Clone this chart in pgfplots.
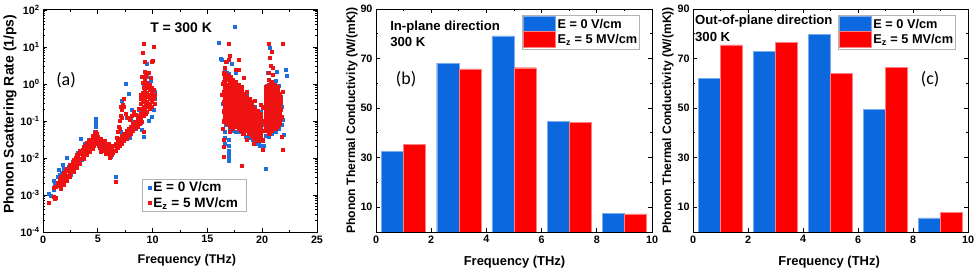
\documentclass[border=0pt]{standalone}
\usepackage{pgfplots}
\pgfplotsset{compat=1.18}
\usepackage{fontspec}
\setmainfont{Liberation Sans}
\newfontfamily\calib{Carlito}
\definecolor{myblue}{RGB}{12,104,222}
\definecolor{myred}{RGB}{255,0,0}
\definecolor{dotblue}{RGB}{30,110,220}
\definecolor{dotred}{RGB}{238,18,18}
\begin{document}
\begin{tikzpicture}
\useasboundingbox (0,0) rectangle (974bp,272bp);
\pgfplotsset{
  common/.style={
    scale only axis,
    axis line style={line width=1bp},
    every tick/.style={black, line width=0.8bp},
    major tick length=4bp, minor tick length=2.2bp,
    tick align=inside,
    tick label style={font=\fontsize{10.8}{12}\selectfont\bfseries},
    label style={font=\fontsize{13}{15}\selectfont\bfseries},
    /pgf/number format/assume math mode=true,
  },
  barleg/.style={
    legend style={draw=gray!60, line width=0.8bp, font=\fontsize{12.8}{14}\selectfont\bfseries,
      row sep=-1.5bp, inner xsep=1bp, inner ysep=1bp, anchor=north west,
      nodes={inner sep=1.6bp}},
    legend cell align=left,
    legend image code/.code={\draw[##1, line width=0.5bp] (0bp,-8bp) rectangle (32bp,8bp);},
  },
}
% ---------------- (a) ----------------
\begin{axis}[common, at={(43bp,40bp)}, anchor=south west, width=274bp, height=222bp,
  ymode=log, xmin=0, xmax=25, ymin=1e-4, ymax=1e2,
  xtick={0,5,...,25}, minor x tick num=1,
  ytick={1e-4,1e-3,1e-2,1e-1,1e0,1e1,1e2},
  yticklabels={10\textsuperscript{-4},10\textsuperscript{-3},10\textsuperscript{-2},10\textsuperscript{-1},10\textsuperscript{0},10\textsuperscript{1},10\textsuperscript{2}},
  xlabel={Frequency (THz)}, ylabel={Phonon Scattering Rate (1/ps)},
  xlabel style={at={(axis description cs:0.525,-0.126)}, anchor=center, font=\fontsize{12.6}{14}\selectfont\bfseries},
  ylabel style={at={(axis description cs:-0.12,0.53)}, anchor=center, font=\fontsize{14}{16}\selectfont\bfseries},
  legend style={at={(0.361,0.09)}, anchor=south west, draw=gray!60, line width=0.8bp,
    font=\fontsize{13.6}{15}\selectfont\bfseries, row sep=0bp, inner xsep=6bp, inner ysep=1bp},
  legend cell align=left,
]
\addplot[only marks, mark=square*, mark size=1.5bp, color=dotblue] coordinates {
(0.55,1.1e-3)(0.7,9.5e-4)(1.0,2.5e-3)(1.05,2e-3)(0.95,1.4e-3)(1.3,3.2e-3)(1.46,4.8e-3)(1.5,3.5e-3)(1.7,4e-3)(1.76,6.5e-3)(1.9,5e-3)(2.0,5e-3)(2.2,1e-2)(2.3,6e-3)(2.5,3.5e-3)(2.7,8e-3)(3.0,5.6e-3)(3.2,1.4e-2)(3.43,3.4e-2)(3.5,9e-3)(3.8,2.5e-2)(4.0,1.4e-2)(4.2,3.2e-2)(4.3,1.6e-2)(4.5,2.6e-2)(4.8,1.17e-1)(4.8,9e-2)(4.85,7e-2)(4.75,5e-2)(5.5,2.8e-2)(5.2,2.3e-2)(5.8,1.8e-2)(6.0,1.4e-2)(6.2,1.1e-2)(6.3,2e-2)(6.6,3.2e-3)(6.9,2.8e-2)(7.1,5e-2)(7.3,2.5e-1)(7.5,1.05e0)(7.6,1.26e-1)(7.8,5.6e-1)(8.0,1.1e-1)(8.1,2e-1)(8.3,1.6e-1)(8.5,6.3e-2)(8.7,2e-1)(9.0,5.8e-2)(9.18,3.8e-2)(9.0,4e-1)(9.2,1e0)(9.42,3.6e0)(9.5,1.6e0)(9.8,1.26e0)(9.6,1e-1)(10.1,2e-1)(10.2,4e-1)(10.2,6.3e-1)(9.9,1.3e-1)(8.9,9e-2)(7.9,3.5e-2)(7.2,3.5e-1)(8.4,8e-2)
(16.02,1.3e1)(17.45,3.5e1)(20.7,9.5e0)(22.1,2.4e0)(22.2,1.7e0)(20.28,5e-3)(16.94,1.1e-2)(16.94,8.5e-3)(16.9,2.2e-2)(16.9,1.6e-2)(16.18,4.9e0)(16.3,4.5e0)(16.54,2.6e0)(16.9,1.9e0)(21.95,4.2e-2)(21.9,1.07e-1)(20.1,2.1e-2)(19.46,2.4e-2)(19.8,2.1e-2)(17.2,3.5e0)(17.6,2e0)(18.6,5e-1)(19.3,2.5e-1)(19.9,1.8e-1)(16.7,8e-2)(17.0,6.3e-2)(17.3,5.6e-2)(17.6,5.2e-2)(17.9,5e-2)(18.2,4.5e-2)(18.5,3.8e-2)(18.8,3.5e-2)(19.1,3.2e-2)(19.4,2.8e-2)(19.7,2.6e-2)(20.0,3.2e-2)(20.3,4e-2)(20.6,3.8e-2)(20.9,4.5e-2)(21.2,5e-2)(21.5,6.3e-2)(21.8,8e-2)(16.6,2.2e0)(16.8,2e0)(17.0,1.6e0)(20.4,9e-1)(21.2,1.26e0)(21.5,9e-1)(21.7,4.5e-1)(20.2,1e-1)(19.95,8e-2)(16.55,3.5e-2)(16.55,2.5e-2)(16.95,3.2e-2)(16.95,1.4e-2)(16.6,5e-2)(21.3,2.2e0)(16.7,1.2e-1)(17.1,9e-2)(17.5,8e-2)(18.0,7e-2)(18.4,6e-2)(19.0,5e-2)(16.4,3e-1)(16.45,6e-1)(17.9,9e-1)(18.9,4e-1)(21.8,2.5e-1)(20.3,1.8e-1)(20.5,2e0)(16.8,4e0)
};
\addlegendentry{E = 0 V/cm}
\addplot[only marks, mark=square*, mark size=1.5bp, color=dotred] coordinates {
(0.5,6.2e-4)(0.95,8.9e-4)(1.1,8e-4)(1.2,8.5e-4)(1.0,1.6e-3)(1.15,1.7e-3)(1.3,2.1e-3)
(1.5,2.7e-3)(1.5,1.8e-3)(1.65,3.1e-3)(1.65,2.0e-3)(1.8,3.4e-3)(1.8,2.2e-3)(1.95,3.9e-3)(1.95,2.6e-3)(2.1,4.4e-3)(2.1,2.9e-3)(2.25,5.0e-3)(2.25,3.3e-3)(2.4,5.6e-3)(2.4,3.7e-3)(2.55,6.5e-3)(2.55,4.3e-3)(2.7,7.6e-3)(2.7,5.0e-3)(2.85,8.7e-3)(2.85,5.8e-3)(3.0,1.02e-2)(3.0,6.8e-3)(3.15,1.15e-2)(3.15,7.6e-3)(3.3,1.3e-2)(3.3,8.7e-3)(3.45,1.5e-2)(3.45,9.8e-3)(3.6,1.7e-2)(3.6,1.12e-2)(3.75,1.9e-2)(3.75,1.26e-2)(3.9,2.2e-2)(3.9,1.45e-2)(4.05,2.45e-2)(4.05,1.6e-2)(4.2,2.7e-2)(4.2,1.8e-2)(4.35,3.0e-2)(4.35,1.95e-2)(4.5,3.2e-2)(4.5,2.1e-2)
(1.6,2.4e-3)(2.0,3.3e-3)(2.4,4.6e-3)(2.8,6.8e-3)(3.2,9.8e-3)(3.6,1.38e-2)(4.0,1.9e-2)(4.4,2.5e-2)
(1.57,3.2e-3)(1.87,4.1e-3)(2.17,5.2e-3)(2.47,6.8e-3)(2.77,9.1e-3)(3.07,1.23e-2)(3.37,1.58e-2)(3.67,2.04e-2)(3.97,2.6e-2)(4.27,3.2e-2)(4.57,3.9e-2)
(1.57,1.5e-3)(1.87,1.86e-3)(2.17,2.4e-3)(2.47,3.1e-3)(2.77,4.2e-3)(3.07,5.6e-3)(3.37,7.2e-3)(3.67,9.3e-3)(3.97,1.2e-2)(4.27,1.48e-2)(4.57,1.78e-2)
(4.6,2.2e-2)(4.65,3e-2)(4.7,2.5e-2)(4.7,3.5e-2)(4.8,2.8e-2)(4.8,4e-2)(4.85,5.2e-2)(4.9,4.5e-2)(4.9,3.2e-2)(4.95,2.5e-2)(4.75,4.6e-2)(5.0,3.8e-2)
(5.05,3e-2)(5.05,2.1e-2)(5.2,2.8e-2)(5.2,1.9e-2)(5.35,2.6e-2)(5.35,1.8e-2)(5.5,2.5e-2)(5.5,1.7e-2)(5.65,2.3e-2)(5.65,1.6e-2)(5.8,2.1e-2)(5.8,1.5e-2)(5.95,2e-2)(5.95,1.35e-2)(6.1,1.9e-2)(6.1,1.26e-2)(6.25,1.9e-2)(6.25,1.26e-2)(6.4,2.1e-2)(6.4,1.4e-2)(5.1,2.4e-2)(5.5,2.1e-2)(5.9,1.66e-2)(6.3,1.6e-2)
(5.25,3.4e-2)(5.6,2.9e-2)(5.95,2.5e-2)(5.3,1.5e-2)(5.7,1.3e-2)(6.1,1.05e-2)
(6.6,2.3e-3)
(6.6,2.5e-2)(6.6,1.6e-2)(6.8,3e-2)(6.8,1.9e-2)(7.0,3.4e-2)(7.0,2.1e-2)(7.2,4e-2)(7.2,2.5e-2)(7.4,4.6e-2)(7.4,2.9e-2)(7.6,5.4e-2)(7.6,3.4e-2)(7.8,6.3e-2)(7.8,4e-2)(8.0,7.2e-2)(8.0,4.6e-2)(8.2,8.5e-2)(8.2,5.4e-2)(8.4,9.8e-2)(8.4,6.2e-2)(8.6,1.15e-1)(8.6,7.2e-2)(8.8,1.35e-1)(8.8,8.5e-2)(9.0,1.55e-1)(9.0,9.8e-2)
(6.7,2.0e-2)(7.1,2.7e-2)(7.5,3.9e-2)(7.9,5.3e-2)(8.3,7.2e-2)(8.7,9.5e-2)
(6.9,2.4e-2)(7.3,3.3e-2)(7.7,4.6e-2)(8.1,6.2e-2)(8.5,8.2e-2)(8.9,1.1e-1)
(6.7,3.5e-2)(6.8,5e-2)(6.9,7e-2)(7.0,1e-1)(7.1,1.4e-1)(7.2,2e-1)(7.3,2.8e-1)(7.35,4e-1)(7.0,6.3e-2)(7.2,1.26e-1)(7.4,2.5e-1)(7.5,1.6e-1)(7.7,1.26e-1)(7.9,1.1e-1)(8.1,1.4e-1)(7.05,2.5e-1)(8.3,1.8e-1)(8.5,1.5e-1)(8.7,2.2e-1)
(8.9,5.2e-1)(8.95,3.9e-1)(8.9,2.9e-1)(8.95,2.1e-1)(8.9,1.55e-1)
(9.1,1.1e0)(9.15,8e-1)(9.1,6e-1)(9.15,4.5e-1)(9.1,3.3e-1)(9.15,2.4e-1)(9.1,1.8e-1)(9.15,1.35e-1)
(9.3,1.3e0)(9.35,9.5e-1)(9.3,7e-1)(9.35,5.2e-1)(9.3,3.9e-1)(9.35,2.9e-1)(9.3,2.1e-1)(9.35,1.55e-1)
(9.5,1.1e0)(9.55,8e-1)(9.5,6e-1)(9.55,4.5e-1)(9.5,3.3e-1)(9.55,2.4e-1)(9.5,1.8e-1)
(9.7,9.5e-1)(9.75,7e-1)(9.7,5.2e-1)(9.75,3.9e-1)(9.7,2.9e-1)(9.75,2.1e-1)
(9.9,8e-1)(9.95,6e-1)(9.9,4.5e-1)(9.95,3.3e-1)(9.9,2.4e-1)
(10.1,7e-1)(10.15,5.2e-1)(10.1,3.9e-1)(10.15,2.9e-1)
(9.2,1.26e1)(9.1,7e0)(9.25,4e0)(9.9,4e0)(10.1,1e1)(10.0,4.2e0)(9.3,2.2e0)(9.6,2e0)(9.0,1.6e0)(9.15,5e-2)(9.4,1.7e0)(9.8,1.5e0)
(16.94,1.26e1)(16.94,4.5e0)(16.7,4e0)(16.6,2.8e0)(17.85,4.5e0)(17.85,2.4e0)(18.3,1.5e0)(17.6,2.5e0)(18.16,6.2e-3)(16.48,1.1e-2)(16.48,2e-2)(16.5,3.2e-2)(20.58,1.2e1)(21.9,1.2e1)(20.9,7.4e0)(20.8,3.2e0)(21.0,2.8e0)(20.6,2e0)(21.8,3.8e-2)(21.9,1.7e-2)(20.0,1.65e-2)(21.7,3.2e-1)(21.8,1.3e-1)(19.2,2.5e-2)(18.6,3.2e-2)(17.0,5e-2)(16.4,6.3e-2)(19.9,2.8e-1)(18.6,6.3e-1)(19.3,3.5e-1)(16.3,5e-1)(16.4,1e0)(21.9,6.3e-1)(17.0,6e0)(20.7,5e0)(21.0,1.8e0)
};
\addlegendentry{E\textsubscript{z} = 5 MV/cm}
% dense core of the 16-22 THz red cloud
\addplot[only marks, mark=square*, mark size=1.9bp, color=dotred, forget plot] coordinates {
(16.55,2e0)(16.6,1.5e0)(16.55,1.1e0)(16.6,8e-1)(16.55,6e-1)(16.6,4.5e-1)(16.55,3.3e-1)(16.6,2.4e-1)(16.55,1.8e-1)(16.6,1.35e-1)(16.55,1e-1)
(16.8,1.75e0)(16.85,1.3e0)(16.8,9.5e-1)(16.85,7e-1)(16.8,5.2e-1)(16.85,3.9e-1)(16.8,2.9e-1)(16.85,2.1e-1)(16.8,1.55e-1)(16.85,1.15e-1)(16.8,8.6e-2)
(17.05,1.5e0)(17.1,1.1e0)(17.05,8e-1)(17.1,6e-1)(17.05,4.5e-1)(17.1,3.3e-1)(17.05,2.4e-1)(17.1,1.8e-1)(17.05,1.35e-1)(17.1,1e-1)(17.05,7.4e-2)
(17.3,1.3e0)(17.35,9.5e-1)(17.3,7e-1)(17.35,5.2e-1)(17.3,3.9e-1)(17.35,2.9e-1)(17.3,2.1e-1)(17.35,1.55e-1)(17.3,1.15e-1)(17.35,8.6e-2)(17.3,6.4e-2)
(17.55,1.1e0)(17.6,8e-1)(17.55,6e-1)(17.6,4.5e-1)(17.55,3.3e-1)(17.6,2.4e-1)(17.55,1.8e-1)(17.6,1.35e-1)(17.55,1e-1)(17.6,7.4e-2)
(17.8,9.5e-1)(17.85,7e-1)(17.8,5.2e-1)(17.85,3.9e-1)(17.8,2.9e-1)(17.85,2.1e-1)(17.8,1.55e-1)(17.85,1.15e-1)(17.8,8.6e-2)(17.85,6.4e-2)
(18.05,8e-1)(18.1,6e-1)(18.05,4.5e-1)(18.1,3.3e-1)(18.05,2.4e-1)(18.1,1.8e-1)(18.05,1.35e-1)(18.1,1e-1)(18.05,7.4e-2)(18.1,5.5e-2)
(18.3,5.2e-1)(18.35,3.9e-1)(18.3,2.9e-1)(18.35,2.1e-1)(18.3,1.55e-1)(18.35,1.15e-1)(18.3,8.6e-2)(18.35,6.4e-2)(18.3,4.7e-2)
(18.55,4.5e-1)(18.6,3.3e-1)(18.55,2.4e-1)(18.6,1.8e-1)(18.55,1.35e-1)(18.6,1e-1)(18.55,7.4e-2)(18.6,5.5e-2)
(18.8,3.9e-1)(18.85,2.9e-1)(18.8,2.1e-1)(18.85,1.55e-1)(18.8,1.15e-1)(18.85,8.6e-2)(18.8,6.4e-2)(18.85,4.7e-2)
(19.05,3.3e-1)(19.1,2.4e-1)(19.05,1.8e-1)(19.1,1.35e-1)(19.05,1e-1)(19.1,7.4e-2)(19.05,5.5e-2)(19.1,4e-2)
(19.3,2.1e-1)(19.35,1.55e-1)(19.3,1.15e-1)(19.35,8.6e-2)(19.3,6.4e-2)(19.35,4.7e-2)(19.3,3.5e-2)
(19.55,1.8e-1)(19.6,1.35e-1)(19.55,1e-1)(19.6,7.4e-2)(19.55,5.5e-2)(19.6,4e-2)(19.55,3e-2)
(19.8,1.55e-1)(19.85,1.15e-1)(19.8,8.6e-2)(19.85,6.4e-2)(19.8,4.7e-2)(19.85,3.5e-2)
(20.1,2.4e-1)(20.05,1e-1)(20.1,5.5e-2)(20.05,3e-2)
(20.35,8e-1)(20.4,6e-1)(20.35,4.5e-1)(20.4,3.3e-1)(20.35,2.4e-1)(20.4,1.8e-1)(20.35,1.35e-1)(20.4,1e-1)(20.35,7.4e-2)(20.4,5.5e-2)
(20.6,1.3e0)(20.65,9.5e-1)(20.6,7e-1)(20.65,5.2e-1)(20.6,3.9e-1)(20.65,2.9e-1)(20.6,2.1e-1)(20.65,1.55e-1)(20.6,1.15e-1)(20.65,8.6e-2)(20.6,6.4e-2)(20.65,4.7e-2)
(20.85,1.1e0)(20.9,8e-1)(20.85,6e-1)(20.9,4.5e-1)(20.85,3.3e-1)(20.9,2.4e-1)(20.85,1.8e-1)(20.9,1.35e-1)(20.85,1e-1)(20.9,7.4e-2)(20.85,5.5e-2)
(21.1,9.5e-1)(21.15,7e-1)(21.1,5.2e-1)(21.15,3.9e-1)(21.1,2.9e-1)(21.15,2.1e-1)(21.1,1.55e-1)(21.15,1.15e-1)(21.1,8.6e-2)(21.15,6.4e-2)
(21.35,8e-1)(21.4,6e-1)(21.35,4.5e-1)(21.4,3.3e-1)(21.35,2.4e-1)(21.4,1.8e-1)(21.35,1.35e-1)(21.4,1e-1)(21.35,7.4e-2)
(21.6,5.2e-1)(21.65,3.9e-1)(21.6,2.9e-1)(21.65,2.1e-1)(21.6,1.55e-1)(21.65,1.15e-1)(21.6,8.6e-2)
};
\node[font=\fontsize{14}{16}\selectfont\bfseries] at (rel axis cs:0.504,0.919) {T = 300 K};
\node[font=\fontsize{18}{20}\selectfont\calib] at (rel axis cs:0.084,0.685) {(a)};
\end{axis}
% ---------------- (b) ----------------
\begin{axis}[common, barleg, at={(376bp,40bp)}, anchor=south west, width=276bp, height=223bp,
  xmin=0, xmax=10, ymin=0, ymax=90,
  xtick={0,2,...,10}, minor x tick num=1,
  ytick={10,30,50,70,90}, minor y tick num=1,
  xlabel={Frequency (THz)}, ylabel={Phonon Thermal Conductivity (W/(mK))},
  xlabel style={at={(axis description cs:0.502,-0.135)}, anchor=center},
  ylabel style={at={(axis description cs:-0.087,0.5)}, anchor=center, font=\fontsize{12.2}{14}\selectfont\bfseries},
  legend style={at={(0.529,0.973)}},
]
\addplot[ybar, bar width=0.8, bar shift=0pt, fill=myblue, draw=myblue!55!white] coordinates {(0.6,32.5)(2.6,68.2)(4.6,79.2)(6.6,44.7)(8.6,7.5)};
\addlegendentry{E = 0 V/cm}
\addplot[ybar, bar width=0.8, bar shift=0pt, fill=myred, draw=myred!50!white] coordinates {(1.4,35.5)(3.4,65.8)(5.4,66.3)(7.4,44.2)(9.4,7.3)};
\addlegendentry{E\textsubscript{z} = 5 MV/cm}
\node[anchor=west, inner sep=0pt, font=\fontsize{13.2}{15}\selectfont\bfseries] at (rel axis cs:0.051,0.919) {In-plane direction};
\node[anchor=west, inner sep=0pt, font=\fontsize{13.2}{15}\selectfont\bfseries] at (rel axis cs:0.051,0.852) {300 K};
\node[font=\fontsize{18}{20}\selectfont\calib] at (rel axis cs:0.109,0.686) {(b)};
\end{axis}
% ---------------- (c) ----------------
\begin{axis}[common, barleg, at={(693bp,40bp)}, anchor=south west, width=275bp, height=223bp,
  xmin=0, xmax=10, ymin=0, ymax=90,
  xtick={0,2,...,10}, minor x tick num=1,
  ytick={10,30,50,70,90}, minor y tick num=1,
  xlabel={Frequency (THz)}, ylabel={Phonon Thermal Conductivity (W/(mK))},
  xlabel style={at={(axis description cs:0.495,-0.135)}, anchor=center},
  ylabel style={at={(axis description cs:-0.091,0.5)}, anchor=center, font=\fontsize{12.2}{14}\selectfont\bfseries},
  legend style={at={(0.527,0.973)}},
]
\addplot[ybar, bar width=0.8, bar shift=0pt, fill=myblue, draw=myblue!55!white] coordinates {(0.6,62.1)(2.6,73)(4.6,79.9)(6.6,49.6)(8.6,5.7)};
\addlegendentry{E = 0 V/cm}
\addplot[ybar, bar width=0.8, bar shift=0pt, fill=myred, draw=myred!50!white] coordinates {(1.4,75.5)(3.4,76.4)(5.4,64)(7.4,66.4)(9.4,7.9)};
\addlegendentry{E\textsubscript{z} = 5 MV/cm\hspace{8bp}}
\node[anchor=west, inner sep=0pt, font=\fontsize{13.2}{15}\selectfont\bfseries] at (rel axis cs:0.007,0.946) {Out-of-plane direction};
\node[anchor=west, inner sep=0pt, font=\fontsize{13.2}{15}\selectfont\bfseries] at (rel axis cs:0.007,0.874) {300 K};
\node[font=\fontsize{18}{20}\selectfont\calib] at (rel axis cs:0.862,0.686) {(c)};
\end{axis}
\end{tikzpicture}
\end{document}
